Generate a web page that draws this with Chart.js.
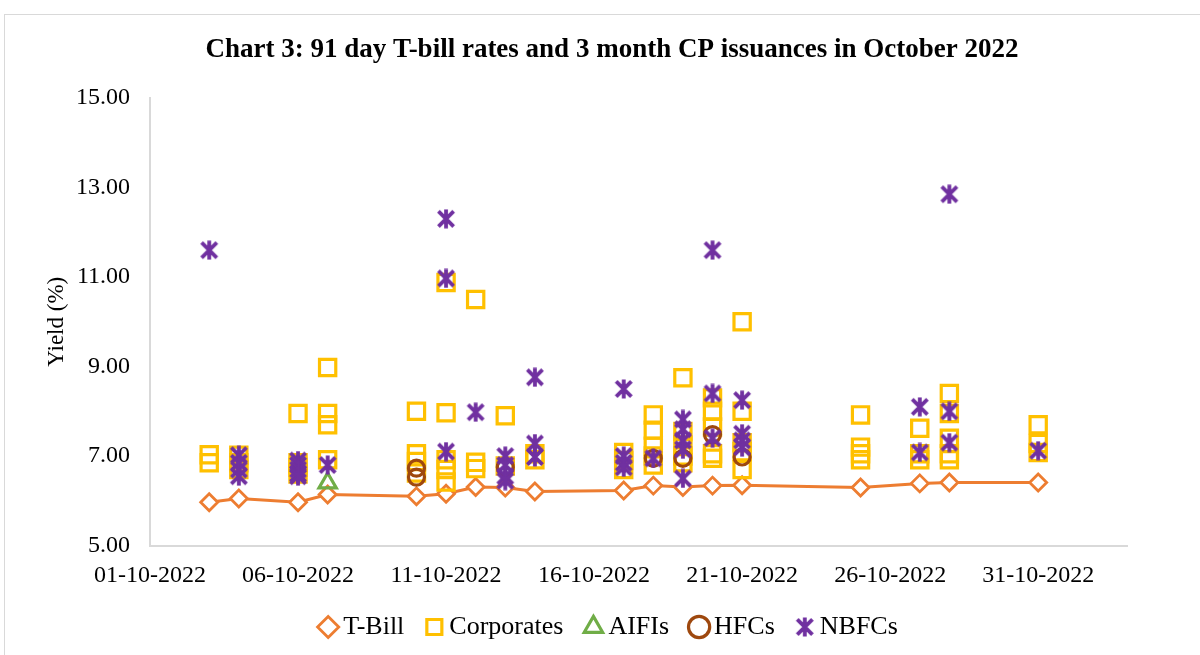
<!DOCTYPE html>
<html>
<head>
<meta charset="utf-8">
<script src="https://cdn.jsdelivr.net/npm/chart.js@4.4.0/dist/chart.umd.min.js"></script>
<style>
  html, body { margin: 0; padding: 0; background: #fff; }
  #wrap { position: relative; width: 1200px; height: 655px; overflow: hidden; }
  #frame { position: absolute; left: 4px; top: 14px; width: 1300px; height: 700px; border: 1.5px solid #d9d9d9; }
  #chart { position: absolute; left: 0; top: 0; }
</style>
</head>
<body>
<div id="wrap">
  <div id="frame"></div>
  <canvas id="chart" width="1200" height="655"></canvas>
</div>
<script>
// x values are days of October 2022
const tickDays = [1, 6, 11, 16, 21, 26, 31];
const yTicks = [5, 7, 9, 11, 13, 15];

const tbillDays = [3, 4, 6, 7, 10, 11, 12, 13, 14, 17, 18, 19, 20, 21, 25, 27, 28, 31];
const tbillRates = [5.97, 6.05, 5.97, 6.14, 6.10, 6.16, 6.31, 6.30, 6.21, 6.23, 6.34, 6.31, 6.34, 6.35, 6.30, 6.39, 6.41, 6.41];

const corpDays = [3, 3, 4, 4, 4, 6, 6, 6, 6, 7, 7, 7, 7, 10, 10, 10, 10, 11, 11, 11, 11, 11,
  12, 12, 12, 13, 13, 14, 14, 17, 17, 17, 18, 18, 18, 18, 18, 19, 19, 19, 19, 19,
  20, 20, 20, 20, 20, 21, 21, 21, 21, 21, 25, 25, 25, 25, 27, 27, 27, 28, 28, 28, 28, 28, 31, 31, 31];
const corpRates = [7.03, 6.85, 7.02, 6.85, 6.70, 7.95, 6.85, 6.75, 6.60, 8.98, 7.95, 7.70, 6.92, 8.00, 7.05, 6.88, 6.62, 10.88, 7.97, 6.92, 6.70, 6.42,
  10.50, 6.86, 6.72, 7.90, 6.78, 7.05, 6.92, 7.08, 6.90, 6.70, 7.92, 7.58, 7.22, 7.00, 6.80, 8.75, 7.55, 7.25, 7.00, 6.85,
  8.30, 8.00, 7.65, 7.05, 6.95, 10.00, 8.00, 7.30, 7.10, 6.70, 7.92, 7.20, 7.05, 6.92, 7.62, 7.05, 6.92, 8.40, 7.95, 7.40, 7.05, 6.92, 7.70, 7.28, 7.08];

const aifiDays = [7];
const aifiRates = [6.40];

const hfcDays = [10, 10, 13, 18, 19, 20, 21];
const hfcRates = [6.73, 6.53, 6.75, 6.95, 6.95, 7.48, 6.98];

const nbfcDays = [3, 4, 4, 4, 4, 6, 6, 6, 6, 6, 7, 11, 11, 11, 12, 13, 13, 13, 13, 14, 14, 14,
  17, 17, 17, 17, 18, 19, 19, 19, 19, 19, 20, 20, 20, 21, 21, 21, 21, 27, 27, 28, 28, 28, 31];
const nbfcRates = [11.60, 7.02, 6.85, 6.70, 6.55, 6.90, 6.80, 6.70, 6.60, 6.55, 6.80, 12.30, 10.97, 7.10, 7.98, 7.00, 6.80, 6.55, 6.45, 8.76, 7.28, 6.98,
  8.50, 7.00, 6.85, 6.75, 6.95, 7.82, 7.60, 7.35, 7.15, 6.50, 11.60, 8.40, 7.40, 8.25, 7.50, 7.35, 7.20, 8.10, 7.08, 12.85, 8.00, 7.30, 7.12];

const pts = (xs, ys) => xs.map((x, i) => ({ x: x, y: ys[i] }));
const pad2 = n => (n < 10 ? '0' : '') + n;
const serif = '"Liberation Serif", "Times New Roman", serif';

// Excel style star: an X with a vertical bar through it
function starMarker(size, color, lw) {
  const c = document.createElement('canvas');
  c.width = size; c.height = size;
  const g = c.getContext('2d');
  g.strokeStyle = color;
  g.lineWidth = lw;
  const m = lw / 2 + 0.5, s = size;
  g.beginPath();
  g.moveTo(m, m); g.lineTo(s - m, s - m);
  g.moveTo(s - m, m); g.lineTo(m, s - m);
  g.moveTo(s / 2, 0.5); g.lineTo(s / 2, s - 0.5);
  g.stroke();
  return c;
}
const star = starMarker(20, '#7030A0', 3.8);

new Chart(document.getElementById('chart'), {
  type: 'scatter',
  data: {
    datasets: [
      {
        label: 'T-Bill', data: pts(tbillDays, tbillRates), showLine: true,
        borderColor: '#ED7D31', backgroundColor: '#ffffff', borderWidth: 3,
        pointStyle: 'rectRot', pointRadius: 8.5, pointBorderWidth: 2.8, order: 5
      },
      {
        label: 'Corporates', data: pts(corpDays, corpRates),
        borderColor: '#FFC000', backgroundColor: 'rgba(0,0,0,0)',
        pointStyle: 'rect', pointRadius: 11.5, pointBorderWidth: 3.2, order: 4
      },
      {
        label: 'AIFIs', data: pts(aifiDays, aifiRates),
        borderColor: '#70AD47', backgroundColor: 'rgba(0,0,0,0)',
        pointStyle: 'triangle', pointRadius: 10, pointBorderWidth: 3.2, order: 3
      },
      {
        label: 'HFCs', data: pts(hfcDays, hfcRates),
        borderColor: '#9E480E', backgroundColor: 'rgba(0,0,0,0)',
        pointStyle: 'circle', pointRadius: 8, pointBorderWidth: 3.2, order: 2
      },
      {
        label: 'NBFCs', data: pts(nbfcDays, nbfcRates),
        borderColor: '#7030A0', backgroundColor: '#7030A0',
        pointStyle: star, pointRadius: 9, order: 1
      }
    ]
  },
  options: {
    responsive: false,
    animation: false,
    devicePixelRatio: 1,
    layout: { padding: { left: 24, right: 0, top: 0, bottom: 5 } },
    plugins: {
      tooltip: { enabled: false },
      title: {
        display: true,
        text: 'Chart 3: 91 day T-bill rates and 3 month CP issuances in October 2022',
        color: '#000',
        font: { family: serif, size: 27, weight: 'bold' },
        padding: { top: 34, bottom: 31.6 }
      },
      legend: {
        position: 'bottom',
        labels: {
          sort: (a, b) => a.datasetIndex - b.datasetIndex,
          usePointStyle: true,
          boxWidth: 4,
          boxHeight: 15,
          padding: 28,
          color: '#000',
          font: { family: serif, size: 26 }
        }
      }
    },
    scales: {
      x: {
        type: 'linear',
        min: 1,
        max: 34,
        afterBuildTicks: s => { s.ticks = tickDays.map(v => ({ value: v })); },
        grid: { display: false, drawTicks: true, tickLength: 19.6 },
        border: { display: true, color: '#d9d9d9', width: 2 },
        ticks: {
          padding: -4,
          color: '#000',
          font: { family: serif, size: 24 },
          maxRotation: 0,
          callback: v => pad2(v) + '-10-2022'
        }
      },
      y: {
        min: 5,
        max: 15,
        afterBuildTicks: s => { s.ticks = yTicks.map(v => ({ value: v })); },
        afterFit: s => { s.width = 126; },
        grid: { display: false },
        border: { display: true, color: '#d9d9d9', width: 2 },
        title: {
          display: true, text: 'Yield (%)', color: '#000',
          font: { family: serif, size: 23 }, padding: { top: 19, bottom: 0 }
        },
        ticks: {
          padding: 12,
          color: '#000',
          font: { family: serif, size: 24 },
          callback: v => v.toFixed(2)
        }
      },
      spacer: {
        position: 'right',
        afterFit: s => { s.width = 73; },
        grid: { display: false },
        border: { display: false },
        ticks: { display: false }
      }
    }
  }
});
</script>
</body>
</html>
